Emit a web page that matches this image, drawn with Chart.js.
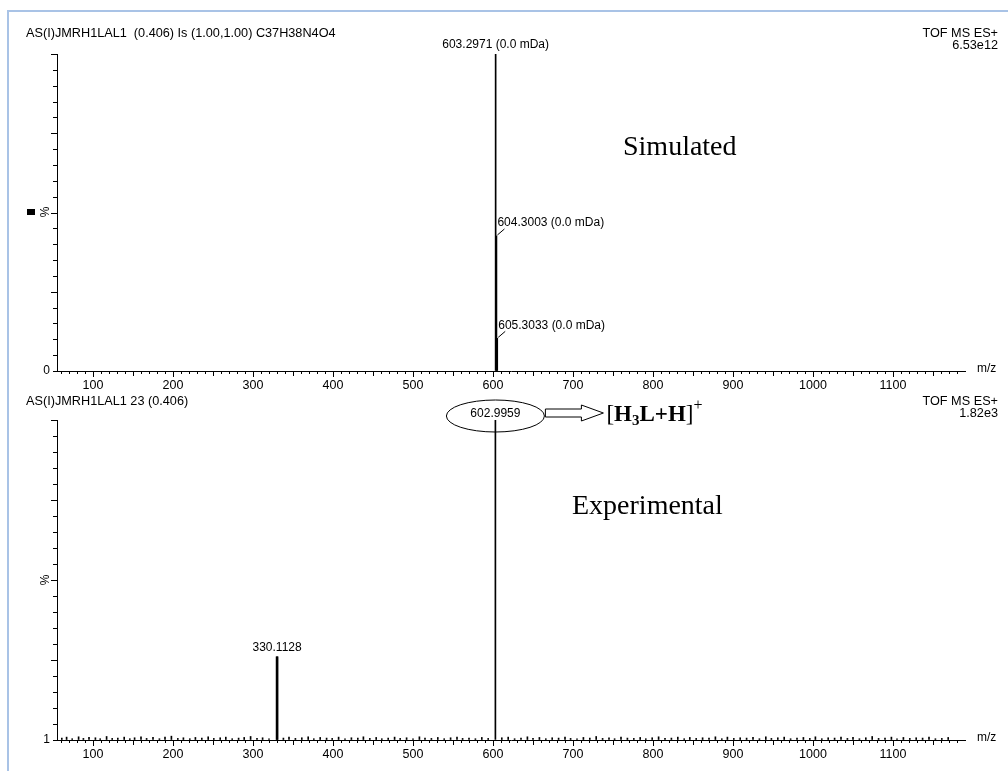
<!DOCTYPE html>
<html><head><meta charset="utf-8">
<script src="https://cdn.jsdelivr.net/npm/chart.js@4/dist/chart.umd.min.js"></script>
<style>
html,body{margin:0;padding:0;background:#fff;width:1008px;height:771px;overflow:hidden}
#frame{position:absolute;left:7px;top:10px;width:1010px;height:770px;border-left:2px solid #a9c3e6;border-top:2px solid #a9c3e6}
canvas{position:absolute;left:0}
#c1{top:0}
#c2{top:392px}
</style></head><body>
<div id="frame"></div>
<canvas id="c1" width="1008" height="392"></canvas>
<canvas id="c2" width="1008" height="379"></canvas>
<script>
// ---------- data ----------
const xTickValues = [100,200,300,400,500,600,700,800,900,1000,1100];
const xMin = 55, xMax = 1190;

const simMz = [603.2971, 604.3003, 605.3033];
const simInt = [100, 42.6, 10.3];
const simLabels = ['603.2971 (0.0 mDa)', '604.3003 (0.0 mDa)', '605.3033 (0.0 mDa)'];

const expMz = [330.1128, 602.9959];
const expInt = [26, 100];
const expLabels = ['330.1128', '602.9959'];

const noiseMz  = [61,67,74,82,88,95,103,109,117,124,131,139,146,152,160,167,175,183,190,198,206,213,221,228,236,244,251,259,266,274,282,289,297,305,312,320,338,345,353,361,369,376,384,392,399,407,415,423,431,438,446,454,461,469,477,484,492,500,508,515,523,531,539,547,555,562,570,578,586,594,611,619,627,635,643,650,658,666,674,682,690,697,705,713,721,729,737,745,752,760,768,776,784,791,799,807,815,823,831,839,846,854,862,870,878,886,893,901,909,917,925,933,941,948,956,964,972,980,988,996,1003,1011,1019,1027,1035,1043,1050,1058,1066,1074,1082,1090,1098,1105,1113,1121,1129,1137,1145,1153,1161,1169,1177];
const noiseInt = [0.6,0.9,0.4,1.0,0.5,0.8,0.7,0.4,1.1,0.5,0.6,0.9,0.4,0.7,1.0,0.5,0.8,0.4,0.9,1.2,0.5,0.7,0.4,0.8,0.6,1.0,0.5,0.7,0.9,0.4,0.6,0.8,1.1,0.5,0.7,0.4,0.6,0.9,0.5,0.7,1.0,0.4,0.8,0.6,0.5,0.9,0.4,0.7,0.6,1.0,0.5,0.8,0.4,0.6,0.9,0.5,0.7,0.4,1.0,0.6,0.5,0.8,0.4,0.7,0.9,0.5,0.6,0.4,0.8,0.5,0.7,0.9,0.4,0.6,1.0,0.5,0.8,0.4,0.7,0.6,0.9,0.5,0.4,0.8,0.6,1.1,0.5,0.7,0.4,0.9,0.6,0.5,0.8,0.4,0.7,1.0,0.5,0.6,0.9,0.4,0.8,0.5,0.7,0.6,1.0,0.4,0.9,0.5,0.7,0.6,0.8,0.4,1.0,0.5,0.7,0.9,0.4,0.6,0.8,0.5,1.0,0.4,0.7,0.6,0.9,0.5,0.8,0.4,0.7,1.1,0.5,0.6,0.9,0.4,0.8,0.5,0.7,0.6,0.9,0.4,0.5,0.8];

const topHeader = 'AS(I)JMRH1LAL1  (0.406) Is (1.00,1.00) C37H38N4O4';
const botHeader = 'AS(I)JMRH1LAL1 23 (0.406)';
const instrument = 'TOF MS ES+';
const topScale = '6.53e12';
const botScale = '1.82e3';
const topBaseLabel = '0';
const botBaseLabel = '1';
const axisTitleX = 'm/z';
const axisTitleY = '%';
const topTag = 'Simulated';
const botTag = 'Experimental';

// ---------- drawing helpers ----------
const SANS = '"Liberation Sans", Arial, sans-serif';
const SERIF = '"Liberation Serif", "Times New Roman", serif';

function seg(ctx, x1, y1, x2, y2) { ctx.beginPath(); ctx.moveTo(x1, y1); ctx.lineTo(x2, y2); ctx.stroke(); }

const panelPlugin = {
  id: 'panel',
  afterDraw(chart, args, o) {
    const { ctx, chartArea: a, scales: { x, y } } = chart;
    ctx.save();
    ctx.strokeStyle = '#000'; ctx.fillStyle = '#000'; ctx.lineWidth = 1;
    // minor x ticks
    for (let v = 60; v <= 1180; v += 10) {
      if (v % 100 === 0) continue;
      const px = Math.round(x.getPixelForValue(v)) + 0.5;
      seg(ctx, px, a.bottom, px, a.bottom + (v % 50 === 0 ? 5 : 3));
    }
    // y ticks (left)
    for (let v = 5; v <= 100; v += 5) {
      const py = Math.round(y.getPixelForValue(v)) + 0.5;
      seg(ctx, a.left, py, a.left - (v % 25 === 0 ? 6 : 4), py);
    }
    // m/z
    ctx.font = '12px ' + SANS; ctx.textBaseline = 'middle'; ctx.textAlign = 'left';
    ctx.fillText(axisTitleX, a.right + 12, a.bottom - 2);
    // % rotated
    ctx.save();
    ctx.translate(46, o.pctY); ctx.rotate(-Math.PI / 2);
    ctx.textAlign = 'center'; ctx.fillText(axisTitleY, 0, 0);
    ctx.restore();
    if (o.square) ctx.fillRect(27, o.pctY - 3, 8, 6);
    // headers
    ctx.font = '12.7px ' + SANS;
    ctx.textAlign = 'left';
    ctx.fillText(o.header, 26, o.headerY);
    ctx.textAlign = 'right';
    ctx.fillText(instrument, 998, o.headerY);
    ctx.fillText(o.scaleText, 998, o.headerY + 12);
    // tag
    ctx.font = '28px ' + SERIF; ctx.textAlign = 'left';
    ctx.fillText(o.tag, o.tagX, o.tagY);
    // peak labels
    ctx.font = '12px ' + SANS;
    o.labels.forEach(l => {
      const px = x.getPixelForValue(l.mz), py = y.getPixelForValue(l.v);
      if (l.kind === 'center') {
        ctx.textAlign = 'center'; ctx.fillText(l.text, px, py - 9);
      } else if (l.kind === 'leader') {
        ctx.textAlign = 'left';
        seg(ctx, px + 1, py - 1, px + 8, py - 7);
        ctx.fillText(l.text, px + 1, py - 13);
      } else if (l.kind === 'ellipse') {
        const cy = py - 4;
        ctx.beginPath(); ctx.ellipse(px, cy, 49, 16, 0, 0, Math.PI * 2); ctx.stroke();
        ctx.textAlign = 'center'; ctx.fillText(l.text, px, cy - 2);
        // hollow arrow
        const x0 = px + 50, cyA = cy - 3;
        ctx.beginPath();
        ctx.moveTo(x0, cyA - 4); ctx.lineTo(x0 + 36, cyA - 4); ctx.lineTo(x0 + 36, cyA - 8);
        ctx.lineTo(x0 + 58, cyA); ctx.lineTo(x0 + 36, cyA + 8); ctx.lineTo(x0 + 36, cyA + 4);
        ctx.lineTo(x0, cyA + 4); ctx.closePath(); ctx.stroke();
        // [H3L+H]+
        let tx = x0 + 61;
        ctx.textAlign = 'left'; ctx.textBaseline = 'alphabetic';
        const base = cyA + 8;
        const parts = [['[', 23, 0, false], ['H', 23, 0, true], ['3', 15, 4, true], ['L+H', 23, 0, true], [']', 23, 0, false], ['+', 16, -11, false]];
        parts.forEach(([t, s, dy, bold]) => {
          ctx.font = (bold ? 'bold ' : '') + s + 'px ' + SERIF;
          ctx.fillText(t, tx, base + dy);
          tx += ctx.measureText(t).width;
        });
        ctx.textBaseline = 'middle';
      }
    });
    ctx.restore();
  }
};

function makeScales(baseLabel, xHeight) {
  return {
    x: {
      type: 'linear', min: xMin, max: xMax, offset: false,
      afterBuildTicks: s => { s.ticks = xTickValues.map(v => ({ value: v })); },
      afterFit: s => { s.height = xHeight; },
      grid: { display: true, drawOnChartArea: false, drawTicks: true, tickLength: 6, color: '#000', offset: false },
      border: { display: true, color: '#000', width: 1 },
      ticks: { color: '#000', font: { family: SANS, size: 12.5 }, padding: 1, maxRotation: 0, autoSkip: false,
               callback: v => String(v) }
    },
    y: {
      type: 'linear', min: 0, max: 100,
      afterBuildTicks: s => { s.ticks = [{ value: 0 }]; },
      afterFit: s => { s.width = 57; },
      grid: { display: true, drawOnChartArea: false, drawTicks: true, tickLength: 4, color: '#000' },
      border: { display: true, color: '#000', width: 1 },
      ticks: { color: '#000', font: { family: SANS, size: 12 }, padding: 3, callback: () => baseLabel }
    }
  };
}

function barSet(mz, vals, thick) {
  return { type: 'bar', data: mz.map((m, i) => ({ x: m, y: vals[i] })), backgroundColor: '#000',
           borderWidth: 0, barThickness: thick, grouped: false };
}

Chart.defaults.font.family = SANS;

new Chart(document.getElementById('c1'), {
  type: 'bar',
  data: { datasets: [barSet(simMz, simInt, 1)] },
  options: {
    responsive: false, animation: false, devicePixelRatio: 1,
    layout: { padding: { left: 0, right: 43, top: 54, bottom: 0 } },
    plugins: { legend: { display: false }, tooltip: { enabled: false },
      panel: { header: topHeader, headerY: 33, scaleText: topScale, tag: topTag, tagX: 623, tagY: 148, pctY: 212, square: true,
        labels: [
          { mz: simMz[0], v: simInt[0], text: simLabels[0], kind: 'center' },
          { mz: simMz[1], v: simInt[1], text: simLabels[1], kind: 'leader' },
          { mz: simMz[2], v: simInt[2], text: simLabels[2], kind: 'leader' }
        ] } },
    scales: makeScales(topBaseLabel, 21)
  },
  plugins: [panelPlugin]
});

new Chart(document.getElementById('c2'), {
  type: 'bar',
  data: { datasets: [barSet(expMz, expInt, 1), barSet([expMz[0]], [expInt[0]], 2), barSet(noiseMz, noiseInt, 1)] },
  options: {
    responsive: false, animation: false, devicePixelRatio: 1,
    layout: { padding: { left: 0, right: 43, top: 28, bottom: 0 } },
    plugins: { legend: { display: false }, tooltip: { enabled: false },
      panel: { header: botHeader, headerY: 9, scaleText: botScale, tag: botTag, tagX: 572, tagY: 115, pctY: 188, square: false,
        labels: [
          { mz: expMz[0], v: expInt[0], text: expLabels[0], kind: 'center' },
          { mz: expMz[1], v: expInt[1], text: expLabels[1], kind: 'ellipse' }
        ] } },
    scales: makeScales(botBaseLabel, 31)
  },
  plugins: [panelPlugin]
});
</script>
</body></html>
